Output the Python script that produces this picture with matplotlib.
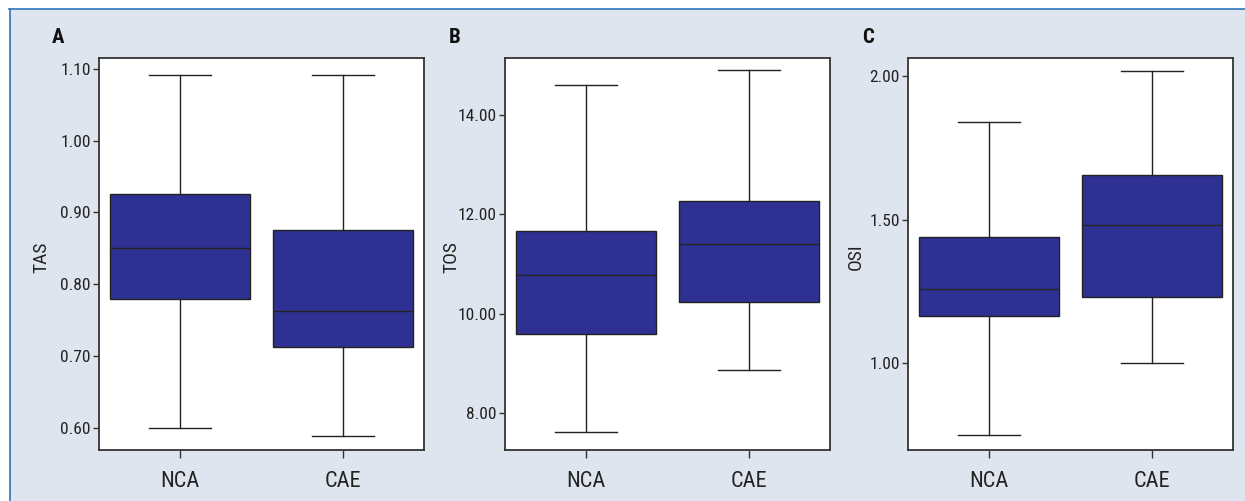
import matplotlib
matplotlib.use("Agg")
import matplotlib.pyplot as plt
from matplotlib import font_manager
from matplotlib.lines import Line2D

groups = ["NCA", "CAE"]

# whislo, q1, median, q3, whishi per group
tas_low = [0.600, 0.588]
tas_q1 = [0.780, 0.712]
tas_med = [0.850, 0.762]
tas_q3 = [0.925, 0.875]
tas_high = [1.092, 1.092]

tos_low = [7.62, 8.87]
tos_q1 = [9.58, 10.24]
tos_med = [10.78, 11.40]
tos_q3 = [11.66, 12.26]
tos_high = [14.61, 14.91]

osi_low = [0.750, 1.000]
osi_q1 = [1.166, 1.230]
osi_med = [1.257, 1.480]
osi_q3 = [1.440, 1.656]
osi_high = [1.841, 2.017]

# --- pick a condensed sans if available
names = {f.name for f in font_manager.fontManager.ttflist}
cond = [(f.name, f.stretch) for f in font_manager.fontManager.ttflist]
chosen = None
for cand in ["Roboto Condensed", "Liberation Sans Narrow", "Open Sans Condensed",
             "DejaVu Sans Condensed", "Arial Narrow"]:
    if cand in names:
        chosen = cand
        break
stretch = "normal"
if chosen is None:
    for n, s in cond:
        if n in ("DejaVu Sans", "Roboto", "Open Sans", "Noto Sans") and str(s) in ("condensed", "semi-condensed", "75", "87.5", "62.5"):
            chosen, stretch = n, "condensed"
            break
narrow = chosen is not None
if chosen is None:
    chosen = "Liberation Sans"
plt.rcParams['font.family'] = [chosen, 'DejaVu Sans']
plt.rcParams['font.stretch'] = stretch

k = 1.0 if narrow else 0.88
fs_ytick = 12.5 * k
fs_xtick = 16 * k
fs_ylab = 14 * k
fs_letter = 15 * k

panels = [
    ("A", "TAS", (tas_low, tas_q1, tas_med, tas_q3, tas_high), [0.60, 0.70, 0.80, 0.90, 1.00, 1.10], (0.569, 1.115)),
    ("B", "TOS", (tos_low, tos_q1, tos_med, tos_q3, tos_high), [8.0, 10.0, 12.0, 14.0], (7.25, 15.15)),
    ("C", "OSI", (osi_low, osi_q1, osi_med, osi_q3, osi_high), [1.0, 1.5, 2.0], (0.698, 2.063)),
]

W, H = 1245, 501
fig = plt.figure(figsize=(W / 100, H / 100), dpi=100)
fig.patch.set_facecolor("white")

bg = "#dfe5ef"
fig.patches.append(plt.Rectangle((10 / W, 0), 1 - 10 / W, 1 - 9 / H, transform=fig.transFigure,
                                 facecolor=bg, edgecolor="none", zorder=-10))
fig.lines.append(Line2D([9 / W, 1], [1 - 8.5 / H, 1 - 8.5 / H], transform=fig.transFigure,
                        color="#2e74b5", lw=1.2, zorder=-5))
fig.lines.append(Line2D([9.5 / W, 9.5 / W], [0, 1 - 8.5 / H], transform=fig.transFigure,
                        color="#2e74b5", lw=1.2, zorder=-5))

ax_left = [99, 505, 908]
letter_x = [52, 449, 862]
ylab_x = [41, 451, 856]
ax_w = 325
top, bottom = 58, 450
box_color = "#2e3192"
line_color = "#222222"
spine_color = "#333333"
txt = "#222222"

for i, (letter, ylabel, vals, ticks, ylim) in enumerate(panels):
    left = ax_left[i]
    ax = fig.add_axes([left / W, 1 - bottom / H, ax_w / W, (bottom - top) / H])
    lo, q1, med, q3, hi = vals
    stats = []
    for g in range(len(groups)):
        stats.append(dict(label=groups[g], whislo=lo[g], q1=q1[g], med=med[g], q3=q3[g],
                          whishi=hi[g], fliers=[]))
    ax.bxp(stats, positions=[0, 1], widths=0.86, patch_artist=True, showfliers=False,
           boxprops=dict(facecolor=box_color, edgecolor=line_color, linewidth=1.0),
           medianprops=dict(color=line_color, linewidth=1.0),
           whiskerprops=dict(color=line_color, linewidth=1.0),
           capprops=dict(color=line_color, linewidth=1.0),
           capwidths=0.38)
    ax.set_xlim(-0.5, 1.5)
    ax.set_ylim(*ylim)
    ax.set_yticks(ticks)
    ax.set_yticklabels([f"{t:.2f}" for t in ticks], fontsize=fs_ytick, color=txt)
    ax.set_xticks([0, 1])
    ax.set_xticklabels(groups, fontsize=fs_xtick, color=txt)
    ax.tick_params(axis="y", length=4, width=1, color=spine_color, pad=2)
    ax.tick_params(axis="x", length=6, width=1, color=spine_color, pad=9)
    for s in ax.spines.values():
        s.set_color(spine_color)
        s.set_linewidth(1.3)
    ax.set_facecolor("white")
    ax.set_ylabel(ylabel, fontsize=fs_ylab, color=txt)
    ax.yaxis.set_label_coords((ylab_x[i] - left) / ax_w, (bottom - 257) / (bottom - top))
    ax.yaxis.label.set_va("center")
    ax.text((letter_x[i] - left) / ax_w, (bottom - 43) / (bottom - top), letter,
            transform=ax.transAxes, fontsize=fs_letter, fontweight="bold",
            color="#111111", ha="left", va="baseline")

fig.savefig("out.png", dpi=100)
